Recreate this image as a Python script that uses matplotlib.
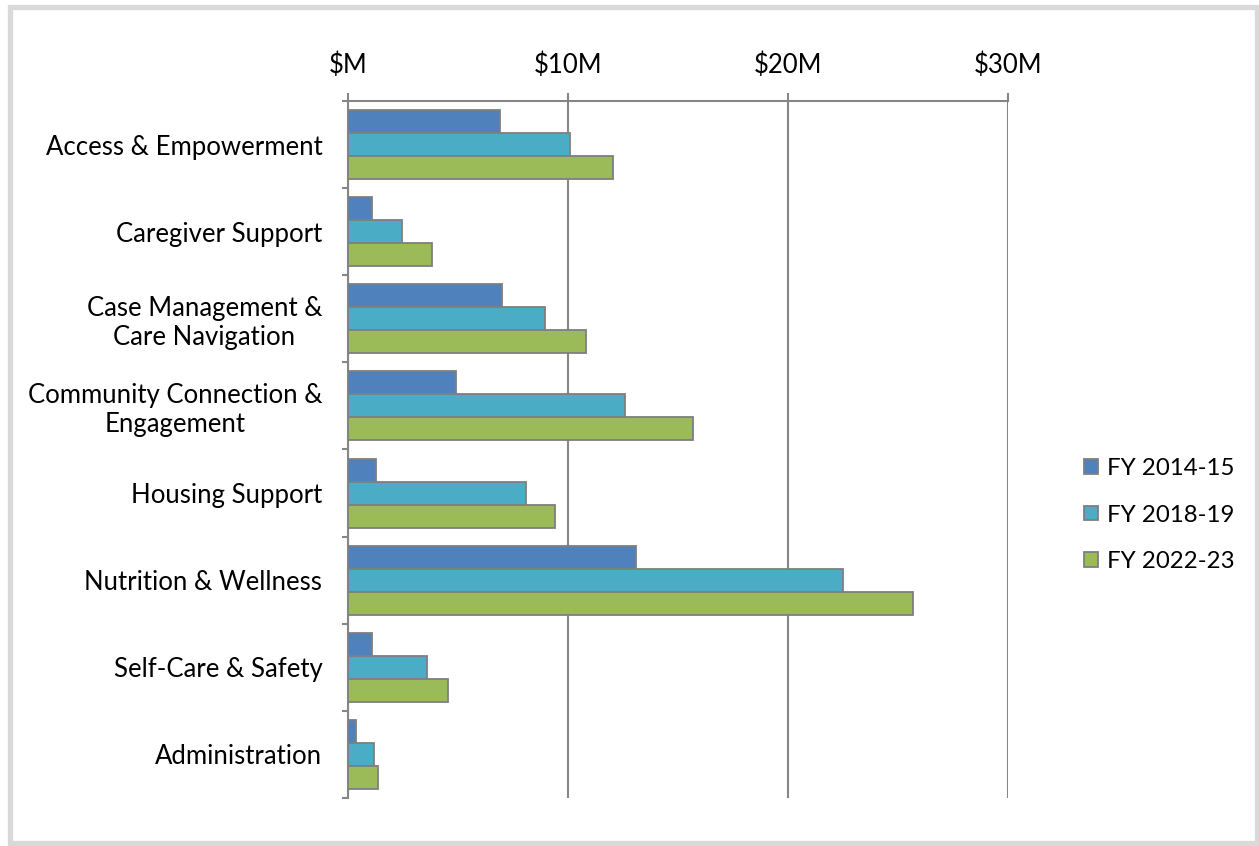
import matplotlib
matplotlib.use('Agg')
import matplotlib.pyplot as plt
from matplotlib.patches import Rectangle
import numpy as np

plt.rcParams['font.family'] = ['Lato', 'DejaVu Sans']

# data (in $ millions)
categories = ['Access & Empowerment', 'Caregiver Support', 'Case Management &\nCare Navigation',
              'Community Connection &\nEngagement', 'Housing Support', 'Nutrition & Wellness',
              'Self-Care & Safety', 'Administration']
fy_2014 = [6.9, 1.1, 7.0, 4.9, 1.25, 13.1, 1.1, 0.35]
fy_2018 = [10.1, 2.45, 8.95, 12.6, 8.1, 22.5, 3.6, 1.2]
fy_2022 = [12.05, 3.8, 10.8, 15.7, 9.4, 25.7, 4.55, 1.35]
series_names = ['FY 2014-15', 'FY 2018-19', 'FY 2022-23']
colors = ['#4F81BD', '#4BACC6', '#9BBB59']
xticks = [0, 10, 20, 30]
xtick_labels = ['$M', '$10M', '$20M', '$30M']

W, H = 1259, 846
fs = 18.5
fig = plt.figure(figsize=(W / 100, H / 100), dpi=100)
ax = fig.add_axes([348 / W, 1 - 798 / H, 660 / W, 697 / H])

y = np.arange(len(categories))
h = 0.264
for k, vals in enumerate([fy_2014, fy_2018, fy_2022]):
    ax.barh(y + (k - 1) * h, vals, height=h, color=colors[k], edgecolor='#7f7f7f',
            linewidth=1.3, label=series_names[k], zorder=3)

ax.set_xlim(0, 30)
ax.set_ylim(len(categories) - 0.5, -0.5)
ax.xaxis.tick_top()
ax.set_xticks(xticks)
ax.set_xticklabels(xtick_labels, fontsize=fs)
ax.tick_params(axis='x', direction='out', length=5.8, width=1.5, color='#868686', pad=11)
ax.grid(axis='x', color='#868686', linewidth=1.5, zorder=0)

ax.set_yticks(y)
ax.set_yticklabels(categories, fontsize=fs, multialignment='center', linespacing=1.17)
ax.tick_params(axis='y', which='major', length=0, pad=18.5)
ax.set_yticks(np.arange(-0.5, len(categories) + 0.5, 1), minor=True)
ax.tick_params(axis='y', which='minor', direction='out', length=4.3, width=1.5, color='#868686')

for s in ['right', 'bottom']:
    ax.spines[s].set_visible(False)
for s in ['top', 'left']:
    ax.spines[s].set_color('#868686')
    ax.spines[s].set_linewidth(1.5)

leg = fig.legend(*ax.get_legend_handles_labels(), loc='center left',
                 bbox_to_anchor=(1084 / W, 1 - 515 / H), frameon=False, fontsize=17.3,
                 borderpad=0, borderaxespad=0, handlelength=0.58, handleheight=0.58,
                 handletextpad=0.38, labelspacing=1.08)

# outer chart border
fig.patches.append(Rectangle((10.5 / W, 3 / H), 1246 / W, 836 / H, transform=fig.transFigure,
                             fill=False, edgecolor='#d9d9d9', linewidth=3.8))

fig.savefig('out.png', dpi=100)
